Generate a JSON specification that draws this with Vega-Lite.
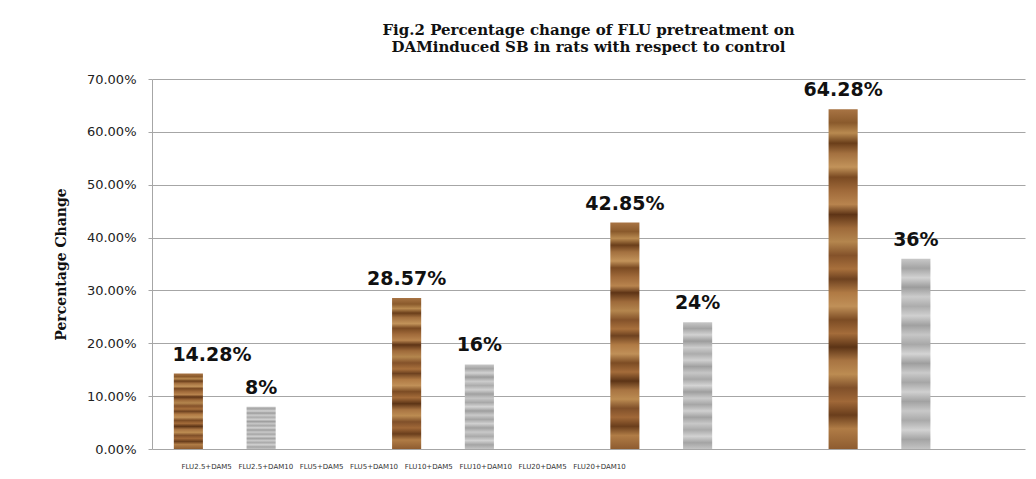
{
  "$schema": "https://vega.github.io/schema/vega-lite/v6.json",
  "width": 873,
  "height": 370,
  "autosize": "none",
  "padding": {"left": 152, "top": 79, "right": 11, "bottom": 30},
  "background": "white",
  "title": {
    "text": ["Fig.2 Percentage change of FLU pretreatment on", " DAMinduced SB in rats with respect to control"],
    "font": "DejaVu Serif",
    "fontSize": 15,
    "fontWeight": "bold",
    "color": "#111111",
    "anchor": "middle",
    "lineHeight": 17,
    "offset": 18
  },
  "data": {
    "values": [
      {"group": "FLU2.5", "dose": "DAM5", "value": 0.1428, "label": "14.28%"},
      {"group": "FLU2.5", "dose": "DAM10", "value": 0.08, "label": "8%"},
      {"group": "FLU5", "dose": "DAM5", "value": 0.2857, "label": "28.57%"},
      {"group": "FLU5", "dose": "DAM10", "value": 0.16, "label": "16%"},
      {"group": "FLU10", "dose": "DAM5", "value": 0.4285, "label": "42.85%"},
      {"group": "FLU10", "dose": "DAM10", "value": 0.24, "label": "24%"},
      {"group": "FLU20", "dose": "DAM5", "value": 0.6428, "label": "64.28%"},
      {"group": "FLU20", "dose": "DAM10", "value": 0.36, "label": "36%"}
    ]
  },
  "encoding": {
    "x": {
      "field": "group",
      "type": "nominal",
      "sort": ["FLU2.5", "FLU5", "FLU10", "FLU20"],
      "scale": {"paddingInner": 0, "paddingOuter": 0},
      "axis": {
        "labels": false,
        "ticks": false,
        "domain": false,
        "title": "FLU2.5+DAM5\u00a0\u00a0\u00a0FLU2.5+DAM10\u00a0\u00a0\u00a0FLU5+DAM5\u00a0\u00a0\u00a0FLU5+DAM10\u00a0\u00a0\u00a0FLU10+DAM5\u00a0\u00a0\u00a0FLU10+DAM10\u00a0\u00a0\u00a0FLU20+DAM5\u00a0\u00a0\u00a0FLU20+DAM10",
        "titleFont": "DejaVu Sans",
        "titleFontSize": 7,
        "titleFontWeight": "normal",
        "titleColor": "#333333",
        "titleAnchor": "start",
        "titleAlign": "left",
        "titleX": 29,
        "titleY": 17,
        "titleBaseline": "middle"
      }
    },
    "xOffset": {
      "field": "dose",
      "type": "nominal",
      "scale": {"domain": ["DAM5", "DAM10", "none"], "paddingInner": 0.6, "paddingOuter": 0.3}
    },
    "y": {
      "field": "value",
      "type": "quantitative",
      "scale": {"domain": [0, 0.7], "nice": false},
      "axis": {
        "values": [0, 0.1, 0.2, 0.3, 0.4, 0.5, 0.6, 0.7],
        "format": ".2%",
        "title": "Percentage Change",
        "titleFont": "DejaVu Serif",
        "titleFontSize": 14,
        "titleFontWeight": "bold",
        "titleColor": "#111111",
        "titlePadding": 18,
        "labelFont": "DejaVu Sans",
        "labelFontSize": 13,
        "labelColor": "#222222",
        "labelPadding": 12,
        "tickSize": 4,
        "tickColor": "#a6a6a6",
        "domainColor": "#a6a6a6",
        "gridColor": "#a6a6a6",
        "gridWidth": 1.2,
        "grid": true
      }
    }
  },
  "layer": [
    {
      "transform": [{"filter": "datum.dose === 'DAM5'"}],
      "mark": {
        "type": "bar",
        "color": {
          "gradient": "linear",
          "x1": 0, "y1": 0, "x2": 0, "y2": 1,
          "stops": [
            {"offset": 0.0, "color": "#a87444"},
            {"offset": 0.04, "color": "#8a5a2c"},
            {"offset": 0.07, "color": "#b98a50"},
            {"offset": 0.1, "color": "#6a3e1a"},
            {"offset": 0.13, "color": "#a3703f"},
            {"offset": 0.17, "color": "#c2935a"},
            {"offset": 0.2, "color": "#7a4a22"},
            {"offset": 0.24, "color": "#a06a3a"},
            {"offset": 0.28, "color": "#b8844e"},
            {"offset": 0.31, "color": "#5e3416"},
            {"offset": 0.35, "color": "#9e6a3a"},
            {"offset": 0.39, "color": "#b4864e"},
            {"offset": 0.43, "color": "#84522a"},
            {"offset": 0.47, "color": "#a8703c"},
            {"offset": 0.5, "color": "#6e4220"},
            {"offset": 0.54, "color": "#b07a44"},
            {"offset": 0.58, "color": "#c09058"},
            {"offset": 0.62, "color": "#7c4c24"},
            {"offset": 0.66, "color": "#a46c3a"},
            {"offset": 0.7, "color": "#5c3416"},
            {"offset": 0.74, "color": "#a87442"},
            {"offset": 0.78, "color": "#bc8c52"},
            {"offset": 0.82, "color": "#80502a"},
            {"offset": 0.86, "color": "#a06838"},
            {"offset": 0.9, "color": "#6a3e1c"},
            {"offset": 0.94, "color": "#b07c46"},
            {"offset": 1.0, "color": "#8e5c30"}
          ]
        }
      }
    },
    {
      "transform": [{"filter": "datum.dose === 'DAM10'"}],
      "mark": {
        "type": "bar",
        "color": {
          "gradient": "linear",
          "x1": 0, "y1": 0, "x2": 0, "y2": 1,
          "stops": [
            {"offset": 0.0, "color": "#c8c8c8"},
            {"offset": 0.05, "color": "#a4a4a4"},
            {"offset": 0.1, "color": "#d2d2d2"},
            {"offset": 0.15, "color": "#9c9c9c"},
            {"offset": 0.2, "color": "#cccccc"},
            {"offset": 0.25, "color": "#acacac"},
            {"offset": 0.3, "color": "#d0d0d0"},
            {"offset": 0.35, "color": "#a0a0a0"},
            {"offset": 0.4, "color": "#c6c6c6"},
            {"offset": 0.45, "color": "#a8a8a8"},
            {"offset": 0.5, "color": "#d4d4d4"},
            {"offset": 0.55, "color": "#9e9e9e"},
            {"offset": 0.6, "color": "#cacaca"},
            {"offset": 0.65, "color": "#a6a6a6"},
            {"offset": 0.7, "color": "#d0d0d0"},
            {"offset": 0.75, "color": "#a2a2a2"},
            {"offset": 0.8, "color": "#c8c8c8"},
            {"offset": 0.85, "color": "#aaaaaa"},
            {"offset": 0.9, "color": "#d2d2d2"},
            {"offset": 0.95, "color": "#a4a4a4"},
            {"offset": 1.0, "color": "#c4c4c4"}
          ]
        }
      }
    },
    {
      "transform": [{"filter": "datum.label !== '14.28%'"}],
      "mark": {
        "type": "text",
        "baseline": "bottom",
        "dy": -9,
        "font": "DejaVu Sans",
        "fontSize": 19,
        "fontWeight": "bold",
        "color": "#111111"
      },
      "encoding": {"text": {"field": "label"}}
    },
    {
      "transform": [{"filter": "datum.label === '14.28%'"}],
      "mark": {
        "type": "text",
        "baseline": "bottom",
        "align": "left",
        "dx": -16,
        "dy": -9,
        "font": "DejaVu Sans",
        "fontSize": 19,
        "fontWeight": "bold",
        "color": "#111111"
      },
      "encoding": {"text": {"field": "label"}}
    }
  ],
  "config": {
    "view": {"stroke": null}
  }
}
